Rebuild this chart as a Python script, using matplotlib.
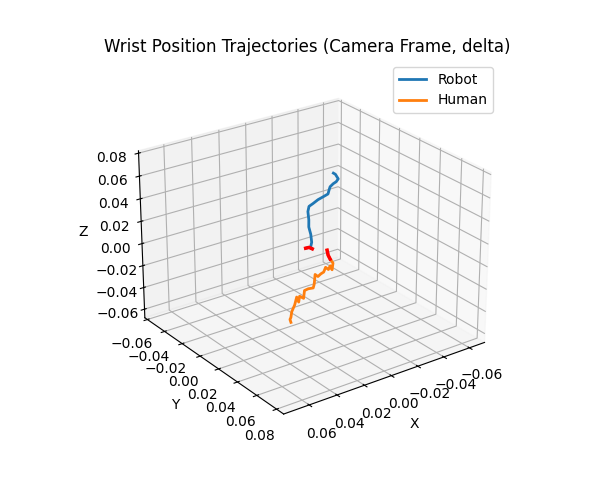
import matplotlib
matplotlib.use("Agg")
import matplotlib.pyplot as plt

# robot wrist delta (m), first 3 samples = start (red)
robot_x = [-0.0004, -0.0030, -0.0054, -0.0034, -0.0035, -0.0028, -0.0006, 0.0001, 0.0015, 0.0014, -0.0015,
           -0.0046, -0.0076, -0.0106, -0.0107, -0.0114, -0.0130, -0.0145, -0.0160, -0.0131, -0.0116]
robot_y = [0.0, 0.0, 0.0, 0.001, 0.002, 0.002, 0.003, 0.004, 0.005, 0.006, 0.006,
           0.007, 0.008, 0.009, 0.010, 0.010, 0.011, 0.012, 0.012, 0.013, 0.013]
robot_z = [-0.0011, -0.0013, -0.0035, -0.0009, 0.0041, 0.0115, 0.0193, 0.0264, 0.0347, 0.0397, 0.0411,
           0.0440, 0.0459, 0.0479, 0.0520, 0.0544, 0.0570, 0.0587, 0.0607, 0.0661, 0.0676]

human_x = [-0.0167, -0.0175, -0.0183, -0.0198, -0.0191, -0.0169, -0.0148, -0.0119, -0.0097, -0.0068,
           -0.0039, -0.0010, 0.0004, 0.0019, 0.0063, 0.0099, 0.0106, 0.0143, 0.0157, 0.0179,
           0.0194, 0.0223, 0.0237, 0.0244, 0.0244]
human_y = [0.0, 0.0, 0.001, 0.002, 0.002, 0.003, 0.004, 0.005, 0.006, 0.007,
           0.008, 0.009, 0.010, 0.011, 0.012, 0.013, 0.013, 0.014, 0.015, 0.016,
           0.016, 0.017, 0.018, 0.018, 0.019]
human_z = [-0.0089, -0.0137, -0.0170, -0.0207, -0.0266, -0.0216, -0.0237, -0.0201, -0.0231, -0.0231,
           -0.0239, -0.0204, -0.0281, -0.0305, -0.0290, -0.0287, -0.0355, -0.0316, -0.0358, -0.0299,
           -0.0364, -0.0408, -0.0450, -0.0465, -0.0486]

n_start = 3
xlim = (-0.072, 0.078)
ylim = (-0.063, 0.087)
zlim = (-0.068, 0.082)

fig = plt.figure(figsize=(6, 5), dpi=100)
ax = fig.add_subplot(111, projection='3d')

ax.plot(robot_x, robot_y, robot_z, color='C0', lw=2, label='Robot')
ax.plot(human_x, human_y, human_z, color='C1', lw=2, label='Human')
ax.plot(robot_x[:n_start], robot_y[:n_start], robot_z[:n_start], color='red', lw=2.5)
ax.plot(human_x[:n_start], human_y[:n_start], human_z[:n_start], color='red', lw=2.5)

ax.set_xlim(*xlim)
ax.set_ylim(*ylim)
ax.set_zlim(*zlim)
ax.set_xlabel('X')
ax.set_ylabel('Y')
ax.set_zlabel('Z')
ax.set_title('Wrist Position Trajectories (Camera Frame, delta)')
ax.view_init(elev=25, azim=54)
ax.legend()

fig.savefig('out.png')
